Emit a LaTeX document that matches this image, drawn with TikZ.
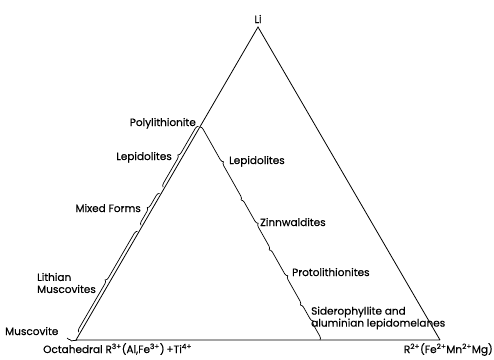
\documentclass[tikz,border=0pt]{standalone}
\usepackage{fontspec}
\setmainfont{Poppins}[UprightFeatures={FakeBold=0.4}]
\usetikzlibrary{calc,decorations.pathreplacing}
\begin{document}
\begin{tikzpicture}[x=1pt,y=-1pt,
    bracestyle/.style={decorate,decoration={brace,amplitude=3.5pt},line width=0.7pt},
    textstyle/.style={inner sep=0pt,font=\fontsize{10.5}{12}\selectfont,align=left}]
  \useasboundingbox (0,0) rectangle (494,359);
  % corners of the diagram
  \coordinate (Li) at (258,27);
  \coordinate (Mu) at (76,340);
  \coordinate (R2) at (440,340);
  \coordinate (Po) at ($(Mu)!0.6805!(Li)$);
  \coordinate (Sd) at (320,340);

  \draw[line width=0.8pt] (Mu) -- (Li) -- (R2) (Mu) -- (R2);

  % braces along the left edge
  \foreach \a/\b in {0.033/0.507, 0.535/0.685, 0.714/1}
    \draw[bracestyle,decoration={raise=1.5pt}] ($(Mu)!\a!(Po)$) -- ($(Mu)!\b!(Po)$);
  \draw[bracestyle,decoration={amplitude=2pt}] (77,340) -- (67,338);

  % braces along the inner edge
  \foreach \a/\b in {0/0.343, 0.343/0.577, 0.577/0.836, 0.836/1}
    \draw[bracestyle] ($(Po)!\a!(Sd)$) -- ($(Po)!\b!(Sd)$);

  \node[textstyle,anchor=base] (liL) at (258,23) {Li};
  \node[textstyle,anchor=base east] (polyL) at (196,126) {Polylithionite};
  \node[textstyle,anchor=base east] (lepL) at (172,160) {Lepidolites};
  \node[textstyle,anchor=base east] (mixL) at (141,212) {Mixed Forms};
  \node[textstyle,anchor=west] (lmuL) at (37,283) {Lithian\\Muscovites};
  \node[textstyle,anchor=base west] (musL) at (5,335) {Muscovite};
  \node[textstyle,anchor=base west] (octL) at (43,353)
    {Octahedral R\textsuperscript{3+}(Al,Fe\textsuperscript{3+})\,+Ti\textsuperscript{4+}};
  \node[textstyle,anchor=base east] (r2L) at (493,353)
    {R\textsuperscript{2+}(Fe\textsuperscript{2+}Mn\textsuperscript{2+}Mg)};
  \node[textstyle,anchor=base west] (lepR) at (229,164) {Lepidolites};
  \node[textstyle,anchor=base west] (zinR) at (260,226) {Zinnwaldites};
  \node[textstyle,anchor=base west] (proR) at (292,276) {Protolithionites};
  \node[textstyle,anchor=west] (sidR) at (311,318) {Siderophyllite and\\aluminian lepidomelanes};
\end{tikzpicture}
\end{document}
